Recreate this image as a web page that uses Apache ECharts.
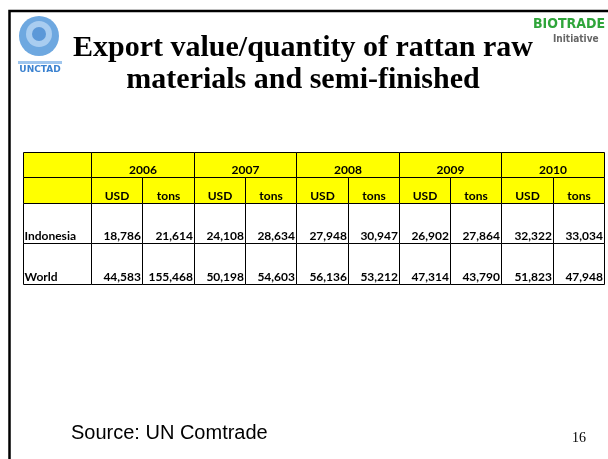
<!DOCTYPE html>
<html><head><meta charset="utf-8">
<script src="https://cdn.jsdelivr.net/npm/echarts@6/dist/echarts.min.js"></script>
<style>html,body{margin:0;padding:0;background:#fff}#c{width:608px;height:459px}</style>
</head><body><div id="c"></div>
<script>
// ---- data ----
const years = ['2006', '2007', '2008', '2009', '2010'];
const measures = ['USD', 'tons'];
const countries = ['Indonesia', 'World'];
const indonesia = [18786, 21614, 24108, 28634, 27948, 30947, 26902, 27864, 32322, 33034];
const world = [44583, 155468, 50198, 54603, 56136, 53212, 47314, 43790, 51823, 47948];
const titleLines = ['Export value/quantity of rattan raw', 'materials and semi-finished'];
const sourceText = 'Source: UN Comtrade';
const pageNumber = '16';

// ---- table layout (built from data) ----
const rowsData = [indonesia, world];
const ROW_EDGES = [0, 25, 51, 91, 132];
const LABEL_COL = -1.33;
const headerCells = [[LABEL_COL, 0, 0, 1, ''], [LABEL_COL, 0, 1, 2, '']];
years.forEach((y, i) => {
  headerCells.push([i * 2, i * 2 + 2, 0, 1, y]);
  measures.forEach((m, j) => headerCells.push([i * 2 + j, i * 2 + j + 1, 1, 2, m]));
});
const bodyCells = [];
countries.forEach((c, r) => {
  bodyCells.push([LABEL_COL, 0, r + 2, r + 3, c, 'left']);
  rowsData[r].forEach((v, k) => bodyCells.push([k, k + 1, r + 2, r + 3, v.toLocaleString('en-US'), 'right']));
});

const CELL_FONT = 'bold 12px Lato';
function makeRenderer(cells, fill) {
  return function (params, api) {
    const d = cells[params.dataIndex];
    const p0 = api.coord([d[0], ROW_EDGES[d[2]]]);
    const p1 = api.coord([d[1], ROW_EDGES[d[3]]]);
    const x0 = Math.round(p0[0]) + 0.5, y0 = Math.round(p0[1]) + 0.5;
    const x1 = Math.round(p1[0]) + 0.5, y1 = Math.round(p1[1]) + 0.5;
    const align = d[5] || 'center';
    const tx = align === 'left' ? x0 + 1 : align === 'right' ? x1 - 1.5 : (x0 + x1) / 2;
    return {
      type: 'group',
      children: [
        { type: 'rect', shape: { x: x0, y: y0, width: x1 - x0, height: y1 - y0 },
          style: { fill: fill, stroke: '#000', lineWidth: 1 } },
        { type: 'text', style: { text: d[4], x: tx, y: y1 - 7.5, align: align, verticalAlign: 'middle',
          font: CELL_FONT, fill: '#000' } }
      ]
    };
  };
}

const TITLE_FONT = 'bold 30px "Liberation Serif"';
const chart = echarts.init(document.getElementById('c'), null, { renderer: 'canvas' });
chart.setOption({
  animation: false,
  backgroundColor: '#fff',
  grid: { left: 23, right: 4, top: 152, height: 132 },
  xAxis: { type: 'value', min: LABEL_COL, max: 10, show: false },
  yAxis: { type: 'value', min: 0, max: 132, inverse: true, show: false },
  series: [
    { type: 'custom', renderItem: makeRenderer(headerCells, '#ffff00'), data: headerCells.map((c, i) => [i]), clip: false, silent: true },
    { type: 'custom', renderItem: makeRenderer(bodyCells, '#ffffff'), data: bodyCells.map((c, i) => [i]), clip: false, silent: true }
  ],
  graphic: [
    // slide frame
    { type: 'rect', shape: { x: 9.5, y: 11, width: 640, height: 480 }, style: { fill: 'none', stroke: '#000', lineWidth: 2.5 } },
    // UN / UNCTAD emblem
    { type: 'circle', shape: { cx: 39, cy: 36, r: 20 }, style: { fill: '#6ea8e0' } },
    { type: 'circle', shape: { cx: 39, cy: 34, r: 13 }, style: { fill: '#a9cdf0' } },
    { type: 'circle', shape: { cx: 39, cy: 34, r: 7 }, style: { fill: '#5b98d8' } },
    { type: 'rect', shape: { x: 18, y: 61, width: 44, height: 3 }, style: { fill: '#9fc6ee' } },
    { type: 'text', style: { text: 'UNCTAD', x: 40, y: 70, align: 'center', verticalAlign: 'middle', font: 'bold 9px "DejaVu Sans"', fill: '#3b82d0' } },
    // BioTrade Initiative logo
    { type: 'text', style: { text: 'BIOTRADE', x: 533, y: 24, align: 'left', verticalAlign: 'middle', font: 'bold 14px "DejaVu Sans Condensed"', fill: '#2fa53a' } },
    { type: 'text', style: { text: 'Initiative', x: 553, y: 39, align: 'left', verticalAlign: 'middle', font: 'bold 10px "DejaVu Sans Condensed"', fill: '#666' } },
    // title
    { type: 'text', style: { text: titleLines[0], x: 303, y: 48, align: 'center', verticalAlign: 'middle', font: TITLE_FONT, fill: '#000' } },
    { type: 'text', style: { text: titleLines[1], x: 303, y: 80, align: 'center', verticalAlign: 'middle', font: TITLE_FONT, fill: '#000' } },
    // source and page number
    { type: 'text', style: { text: sourceText, x: 71, y: 433, align: 'left', verticalAlign: 'middle', font: '20px "Liberation Sans"', fill: '#000' } },
    { type: 'text', style: { text: pageNumber, x: 572, y: 438, align: 'left', verticalAlign: 'middle', font: '14px "Liberation Serif"', fill: '#000' } }
  ]
});
</script>
</body></html>
